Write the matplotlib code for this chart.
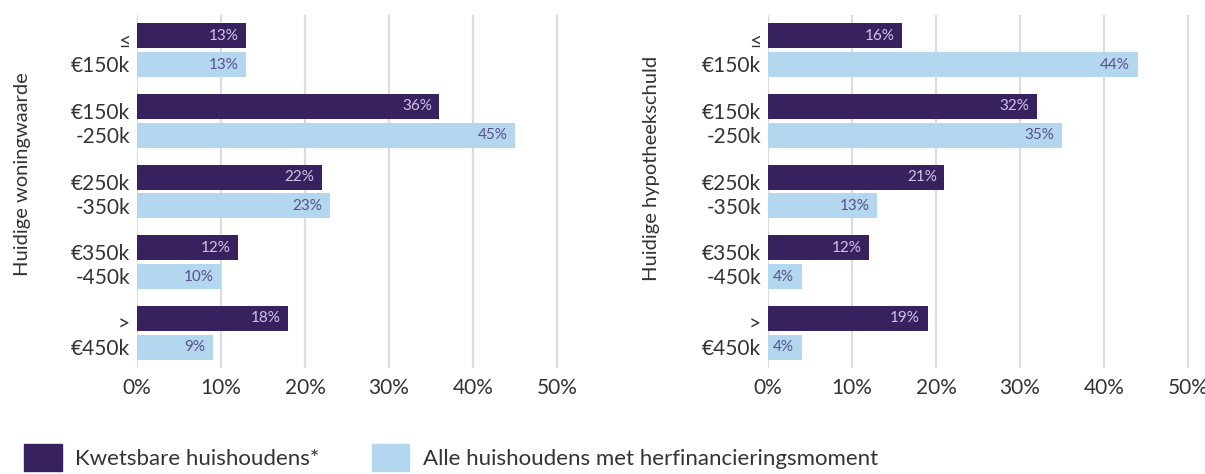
import numpy as np
import matplotlib
matplotlib.use("Agg")
import matplotlib.pyplot as plt
from matplotlib.patches import Patch

plt.rcParams['font.family'] = ['Lato', 'DejaVu Sans']

categories = ['≤\n€150k', '€150k\n-250k', '€250k\n-350k', '€350k\n-450k', '>\n€450k']
woning_kwetsbaar = [13, 36, 22, 12, 18]
woning_alle = [13, 45, 23, 10, 9]
hypo_kwetsbaar = [16, 32, 21, 12, 19]
hypo_alle = [44, 35, 13, 4, 4]
xticks = [0, 10, 20, 30, 40, 50]
series_names = ['Kwetsbare huishoudens*', 'Alle huishoudens met herfinancieringsmoment']

dark = '#38215f'
light = '#b3d7ee'
dark_txt = '#cfc6e6'
light_txt = '#5b4f8c'
grid_col = '#dddae4'
text_col = '#333333'

fig = plt.figure(figsize=(12.05, 4.74), dpi=100)

def draw_panel(ax, kwetsbaar, alle, ylabel, label_xy):
    y = np.arange(len(categories))
    off = 0.204
    h = 0.352
    b1 = ax.barh(y - off, kwetsbaar, height=h, color=dark, zorder=3)
    b2 = ax.barh(y + off, alle, height=h, color=light, zorder=3)
    for bar, v in zip(b1, kwetsbaar):
        ax.text(v - 0.9, bar.get_y() + bar.get_height() / 2, f'{v}%', ha='right', va='center',
                color=dark_txt, fontsize=11, zorder=4)
    for bar, v in zip(b2, alle):
        ax.text(v - 0.9, bar.get_y() + bar.get_height() / 2, f'{v}%', ha='right', va='center',
                color=light_txt, fontsize=11, zorder=4)
    ax.set_ylim(len(categories) - 0.5, -0.5)
    ax.set_xlim(0, 50.6)
    ax.set_xticks(xticks)
    ax.set_xticklabels([f'{t}%' for t in xticks])
    ax.set_yticks(y)
    ax.set_yticklabels(categories, linespacing=1.25)
    ax.tick_params(axis='both', length=0, labelsize=15, colors=text_col)
    ax.tick_params(axis='y', pad=5)
    ax.tick_params(axis='x', pad=7)
    ax.grid(axis='x', color=grid_col, lw=1.6, zorder=0)
    for s in ax.spines.values():
        s.set_visible(False)
    ax.set_ylabel(ylabel, fontsize=14.5, color=text_col)
    ax.yaxis.set_label_coords(*label_xy)

ax1 = fig.add_axes([137 / 1205, 1 - 368 / 474, 425 / 1205, 353 / 474])
ax2 = fig.add_axes([768 / 1205, 1 - 368 / 474, 425 / 1205, 353 / 474])
draw_panel(ax1, woning_kwetsbaar, woning_alle, 'Huidige woningwaarde', (-0.25, 0.55))
draw_panel(ax2, hypo_kwetsbaar, hypo_alle, 'Huidige hypotheekschuld', (-0.253, 0.564))

handles = [Patch(color=dark), Patch(color=light)]
leg = fig.legend(handles, series_names, loc='upper left', bbox_to_anchor=(24 / 1205, 1 - 444 / 474),
                 ncol=2, frameon=False, fontsize=16, borderpad=0, borderaxespad=0,
                 handlelength=1.7, handleheight=1.5, handletextpad=0.6, columnspacing=2.35)
for t in leg.get_texts():
    t.set_color(text_col)

fig.savefig('out.png', dpi=100)
